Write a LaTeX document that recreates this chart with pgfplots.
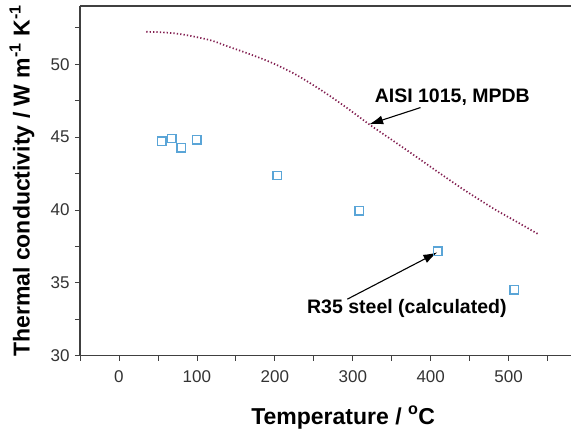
\documentclass[border=0pt]{standalone}
\usepackage{pgfplots}
\pgfplotsset{compat=1.18}
\usetikzlibrary{calc,arrows.meta}
\usepackage{fontspec}
\setmainfont{Liberation Sans}
\definecolor{sqblue}{RGB}{90,165,215}
\definecolor{curve}{RGB}{130,30,80}
\begin{document}
\begin{tikzpicture}
\begin{axis}[
  scale only axis,
  width=491pt, height=349.7pt,
  xmin=-50, xmax=580, ymin=30, ymax=54,
  separate axis lines,
  axis x line=box, axis y line=left,
  axis line style={line width=1.1pt, black!75, -},
  xtick={0,100,200,300,400,500},
  ytick={30,35,40,45,50},
  minor xtick={-50,50,150,250,350,450,550},
  minor ytick={32.5,37.5,42.5,47.5,52.5},
  xtick pos=bottom, ytick pos=left,
  tick align=outside,
  major tick length=5pt, minor tick length=5pt,
  tick style={line width=0.8pt, black!75},
  /pgf/number format/assume math mode=true,
  ticklabel style={font=\fontsize{17}{20}\selectfont, text=black!80},
  xticklabel style={yshift=-6pt},
  yticklabel style={xshift=-2pt},
  xlabel={\textbf{Temperature / \textsuperscript{o}C}},
  ylabel={\textbf{Thermal conductivity / W m\textsuperscript{-1} K\textsuperscript{-1}}},
  label style={font=\fontsize{23}{26}\selectfont},
  xlabel style={at={(axis description cs:0.536,0)}, anchor=base, yshift=-68.3pt},
  ylabel style={at={(axis description cs:0,0.5)}, anchor=south, yshift=42pt},
  clip=false,
]
\addplot[curve, line width=1.7pt, dash pattern=on 1.3pt off 2.1pt, smooth] coordinates {
(35,52.23) (60,52.18) (80,52.06) (100,51.86) (120,51.61) (140,51.22)
(162,50.81) (185,50.35) (205,49.89) (230,49.2) (261,48.17) (290,47.1)
(321,45.88) (334,45.40) (360,44.45) (385,43.52) (410,42.58) (440,41.48)
(465,40.62) (483,40.02) (510,39.2) (539,38.31)
};
\addplot[color=sqblue, only marks, mark=square, mark size=4.2pt, mark options={solid, draw=sqblue, fill=none, line width=1.4pt}] coordinates {
(55,44.71) (68,44.91) (80,44.27) (100,44.82) (203,42.37) (308,39.94) (409,37.16) (507,34.52)
};
\node[font=\fontsize{19.5}{22}\selectfont\bfseries] at (axis cs:427.7,47.71) {AISI 1015, MPDB};
\draw[-{Latex[length=14pt,width=9pt]}, line width=1.1pt] (axis cs:387,47.03) -- (axis cs:321,45.88);
\node[font=\fontsize{19.5}{22}\selectfont\bfseries] at (axis cs:369.4,33.26) {R35 steel (calculated)};
\draw[-{Latex[length=14pt,width=9pt]}, line width=1.1pt] (axis cs:293,33.88) -- (axis cs:408.5,37.09);
\end{axis}
\pgfresetboundingbox
\path ($(current axis.south west)+(-80pt,-74.3pt)$) rectangle ($(current axis.north east)+(0,6pt)$);
\end{tikzpicture}
\end{document}
